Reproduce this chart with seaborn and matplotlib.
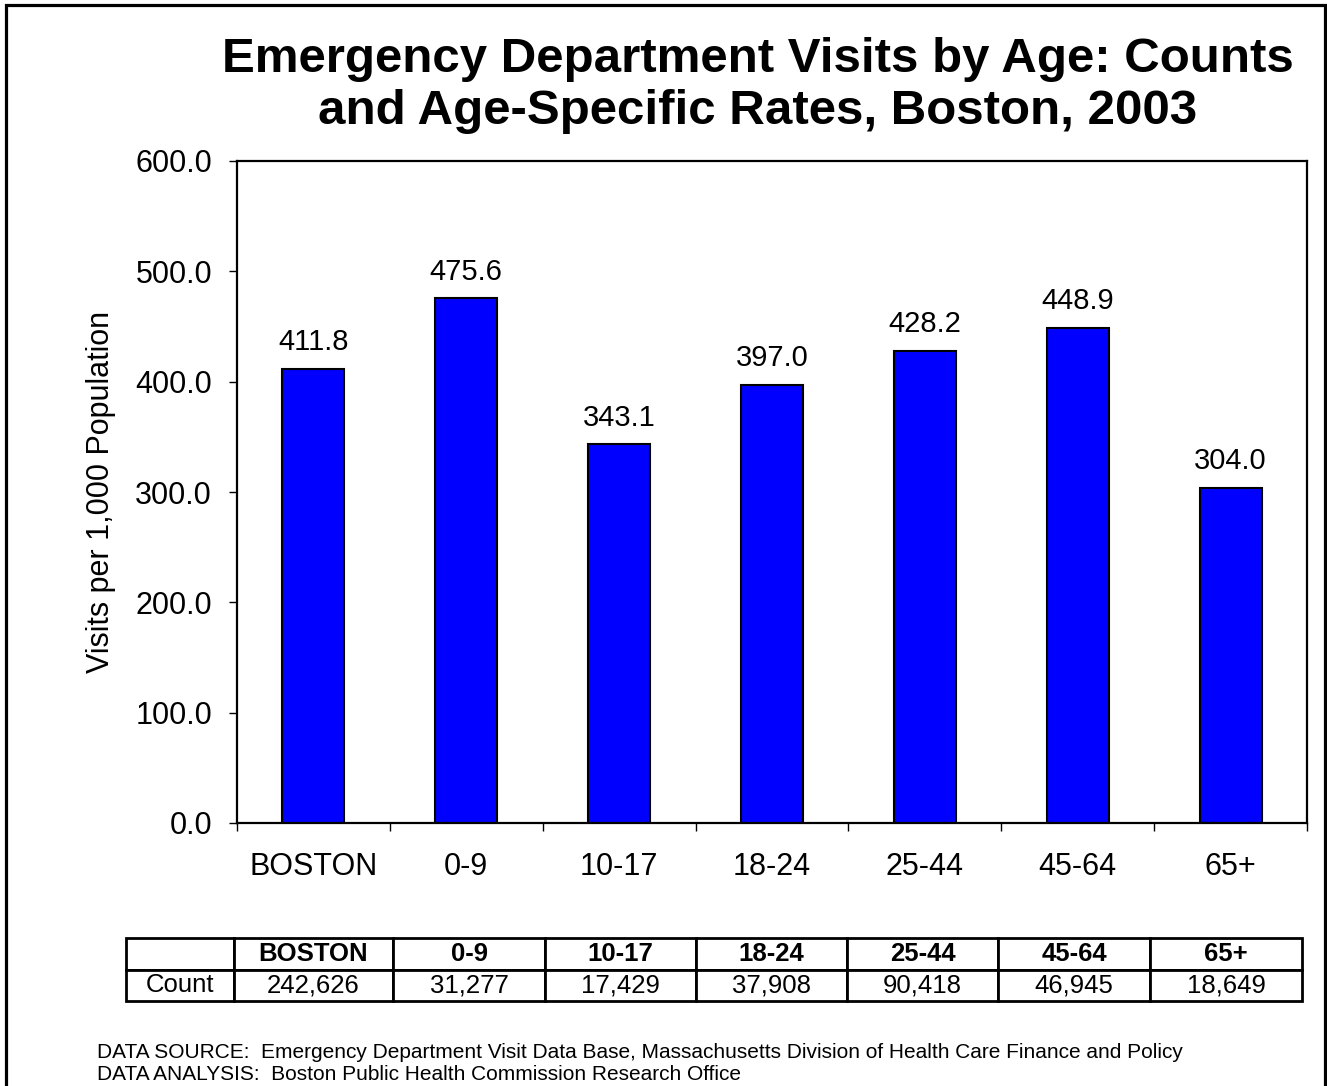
import matplotlib
matplotlib.use("Agg")
import matplotlib.pyplot as plt
import seaborn as sns
import pandas as pd
from matplotlib.patches import Rectangle
from matplotlib.ticker import FixedLocator, FormatStrFormatter

# ---- data ----
categories = ["BOSTON", "0-9", "10-17", "18-24", "25-44", "45-64", "65+"]
rates = [411.8, 475.6, 343.1, 397.0, 428.2, 448.9, 304.0]
counts = ["242,626", "31,277", "17,429", "37,908", "90,418", "46,945", "18,649"]
y_ticks = [0, 100, 200, 300, 400, 500, 600]

title = "Emergency Department Visits by Age: Counts\nand Age-Specific Rates, Boston, 2003"
y_label = "Visits per 1,000 Population"
footer1 = "DATA SOURCE:  Emergency Department Visit Data Base, Massachusetts Division of Health Care Finance and Policy"
footer2 = "DATA ANALYSIS:  Boston Public Health Commission Research Office"

sns.set_theme(style="white")
plt.rcParams["font.family"] = ["Liberation Sans", "DejaVu Sans"]
plt.rcParams["text.color"] = "black"
plt.rcParams["axes.labelcolor"] = "black"
plt.rcParams["xtick.color"] = "black"
plt.rcParams["ytick.color"] = "black"

W, H = 1327, 1086
fig = plt.figure(figsize=(W / 100, H / 100), dpi=100)
fig.patch.set_facecolor("white")

def fx(px):
    return px / W

def fy(py):
    return 1 - py / H

ax = fig.add_axes([fx(237), fy(823), fx(1307) - fx(237), fy(161) - fy(823)])
df = pd.DataFrame({"cat": categories, "rate": rates})
sns.barplot(data=df, x="cat", y="rate", color="#0000FF", saturation=1,
            edgecolor="black", linewidth=1.5, width=0.405, ax=ax)

ax.set_xlim(-0.5, len(categories) - 0.5)
ax.set_ylim(0, 600)
ax.yaxis.set_major_locator(FixedLocator(y_ticks))
ax.yaxis.set_major_formatter(FormatStrFormatter("%.1f"))
ax.set_xlabel("")
ax.set_ylabel(y_label, fontsize=22, labelpad=14, color="black")

for s in ax.spines.values():
    s.set_visible(True)
    s.set_color("black")
    s.set_linewidth(1.6)

ax.tick_params(axis="y", which="major", direction="out", length=6, width=1,
               color="black", labelcolor="black", labelsize=22, pad=12, left=True)
ax.tick_params(axis="x", which="major", length=0, labelsize=22, pad=21,
               labelcolor="black", bottom=True)
ax.set_xticks([i - 0.5 for i in range(len(categories) + 1)], minor=True)
ax.tick_params(axis="x", which="minor", direction="out", length=6, width=1,
               color="black", bottom=True)

for i, v in enumerate(rates):
    ax.annotate(f"{v:.1f}", xy=(i, v), xytext=(0, 9), textcoords="offset points",
                ha="center", va="bottom", fontsize=21, color="black")

fig.text(fx(758), fy(85), title, ha="center", va="center", fontsize=35.5,
         fontweight="bold", linespacing=1.2, color="black")

# ---- count table ----
tax = fig.add_axes([fx(126), fy(1001), fx(1302) - fx(126), fy(938) - fy(1001)])
tax.axis("off")
col_px = [108, 159, 152, 151, 151, 151, 152, 152]
tot = sum(col_px)
cell_text = [[""] + categories, ["Count"] + counts]
tbl = tax.table(cellText=cell_text, colWidths=[c / tot for c in col_px],
                cellLoc="center", bbox=[0, 0, 1, 1])
tbl.auto_set_font_size(False)
tbl.set_fontsize(18.5)
for (r, c), cell in tbl.get_celld().items():
    cell.set_linewidth(2)
    cell.set_edgecolor("black")
    cell.set_facecolor("white")
    cell.get_text().set_color("black")
    if r == 0:
        cell.get_text().set_fontweight("bold")

fig.text(fx(97), fy(1052), footer1, ha="left", va="center", fontsize=15, color="black")
fig.text(fx(97), fy(1074), footer2, ha="left", va="center", fontsize=15, color="black")

# figure frame
fig.add_artist(Rectangle((fx(6), -0.02), fx(1325) - fx(6), fy(5) + 0.02,
                         transform=fig.transFigure, fill=False, lw=2.3,
                         edgecolor="black"))

fig.savefig("out.png", dpi=100, facecolor="white")
